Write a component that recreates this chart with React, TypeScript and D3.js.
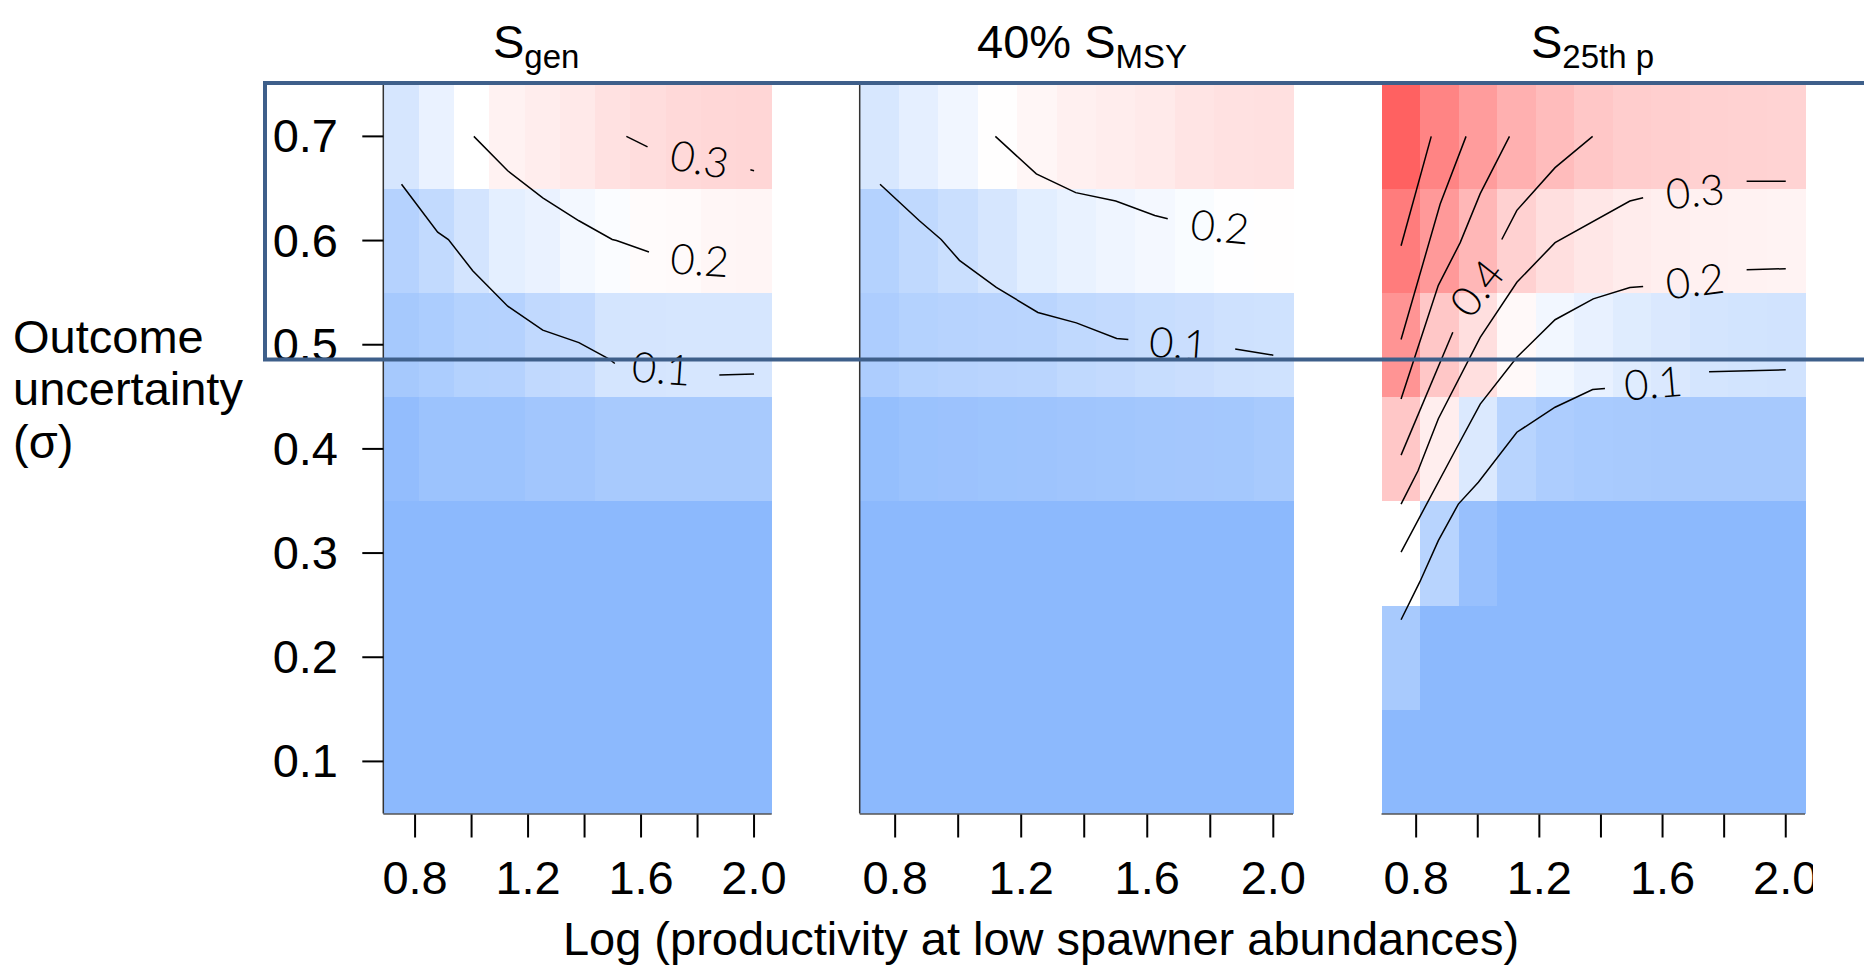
import React from "react";
import * as d3 from "d3";

// ---- grid (cell centres) ----
const SIGMA = [0.1, 0.2, 0.3, 0.4, 0.5, 0.6, 0.7];
const LOG_ALPHA = [0.75, 0.875, 1.0, 1.125, 1.25, 1.375, 1.5, 1.625, 1.75, 1.875, 2.0];
const X_TICKS = [0.8, 1.0, 1.2, 1.4, 1.6, 1.8, 2.0];
const X_TICK_LABELS = ["0.8", "1.2", "1.6", "2.0"];
const X_TICK_LABEL_VALUES = [0.8, 1.2, 1.6, 2.0];
const Y_TICKS = [0.1, 0.2, 0.3, 0.4, 0.5, 0.6, 0.7];
const Y_TICK_LABELS = ["0.1", "0.2", "0.3", "0.4", "0.5", "0.6", "0.7"];

// ---- cell values, rows sigma 0.1 -> 0.7 ----
const SGEN_VALUES = [
  [0, 0, 0, 0, 0, 0, 0, 0, 0, 0, 0],
  [0, 0, 0, 0, 0, 0, 0, 0, 0, 0, 0],
  [0, 0, 0, 0, 0, 0, 0, 0, 0, 0, 0],
  [0.012, 0.028, 0.028, 0.028, 0.038, 0.038, 0.049, 0.049, 0.049, 0.049, 0.049],
  [0.045, 0.056, 0.07, 0.072, 0.092, 0.095, 0.125, 0.127, 0.128, 0.128, 0.128],
  [0.071, 0.094, 0.123, 0.153, 0.163, 0.179, 0.191, 0.215, 0.22, 0.235, 0.237],
  [0.129, 0.163, 0.2, 0.248, 0.268, 0.283, 0.31, 0.325, 0.343, 0.35, 0.352],
];
const SMSY_VALUES = [
  [0, 0, 0, 0, 0, 0, 0, 0, 0, 0, 0],
  [0, 0, 0, 0, 0, 0, 0, 0, 0, 0, 0],
  [0, 0, 0, 0, 0, 0, 0, 0, 0, 0, 0],
  [0.016, 0.025, 0.027, 0.03, 0.032, 0.035, 0.037, 0.04, 0.041, 0.042, 0.048],
  [0.058, 0.07, 0.074, 0.078, 0.08, 0.09, 0.095, 0.102, 0.107, 0.115, 0.117],
  [0.07, 0.09, 0.108, 0.128, 0.15, 0.162, 0.172, 0.18, 0.19, 0.198, 0.202],
  [0.13, 0.155, 0.175, 0.205, 0.235, 0.255, 0.268, 0.28, 0.3, 0.312, 0.315],
];
const S25_VALUES = [
  [0, 0, 0, 0, 0, 0, 0, 0, 0, 0, 0],
  [0.048, 0, 0, 0, 0, 0, 0, 0, 0, 0, 0],
  [0.2, 0.077, 0.02, 0, 0, 0, 0, 0, 0, 0, 0],
  [0.41, 0.265, 0.137, 0.076, 0.058, 0.05, 0.048, 0.047, 0.047, 0.047, 0.047],
  [0.6, 0.41, 0.32, 0.222, 0.178, 0.16, 0.145, 0.135, 0.125, 0.122, 0.12],
  [0.69, 0.58, 0.47, 0.37, 0.32, 0.29, 0.272, 0.26, 0.252, 0.248, 0.245],
  [0.79, 0.66, 0.57, 0.494, 0.45, 0.41, 0.385, 0.378, 0.372, 0.367, 0.363],
];

// ---- contour polylines [logAlpha, sigma] (split where labels sit) ----
const SGEN_CONTOURS = [
  [[0.752, 0.654], [0.88, 0.608], [0.918, 0.601], [1.004, 0.571], [1.128, 0.537], [1.252, 0.514], [1.38, 0.502], [1.489, 0.486], [1.507, 0.482]],
  [[1.877, 0.471], [2.0, 0.472]],
  [[1.008, 0.7], [1.128, 0.667], [1.252, 0.641], [1.38, 0.619], [1.498, 0.601], [1.513, 0.6], [1.628, 0.589]],
  [[1.548, 0.7], [1.623, 0.69]],
  [[1.987, 0.668], [2.0, 0.667]],
];
const SMSY_CONTOURS = [
  [[0.752, 0.654], [0.877, 0.619], [0.946, 0.601], [1.004, 0.581], [1.121, 0.555], [1.253, 0.531], [1.375, 0.521], [1.503, 0.506], [1.54, 0.505]],
  [[1.879, 0.496], [2.0, 0.49]],
  [[1.118, 0.7], [1.248, 0.664], [1.373, 0.646], [1.5, 0.638], [1.624, 0.624], [1.665, 0.621]],
];
const S25_CONTOURS = [
  [[0.849, 0.7], [0.751, 0.595]],
  [[0.962, 0.7], [0.878, 0.635], [0.751, 0.505]],
  [[1.103, 0.7], [1.008, 0.645], [0.943, 0.598], [0.872, 0.557], [0.751, 0.448]],
  [[1.373, 0.7], [1.251, 0.67], [1.127, 0.629], [1.078, 0.601]],
  [[0.919, 0.512], [0.751, 0.394]],
  [[1.537, 0.641], [1.494, 0.638], [1.251, 0.598], [1.127, 0.56], [1.008, 0.507], [0.872, 0.429], [0.806, 0.379], [0.751, 0.347]],
  [[1.873, 0.657], [2.0, 0.657]],
  [[1.537, 0.556], [1.494, 0.555], [1.375, 0.544], [1.251, 0.524], [1.127, 0.488], [1.008, 0.443], [0.926, 0.398], [0.751, 0.301]],
  [[1.873, 0.572], [2.0, 0.573]],
  [[0.751, 0.236], [0.813, 0.273], [0.872, 0.312], [0.937, 0.347], [1.002, 0.368], [1.127, 0.416], [1.251, 0.44], [1.373, 0.457], [1.413, 0.458]],
  [[1.751, 0.474], [2.0, 0.476]],
];

// ---- contour labels ----
const SGEN_LABELS = [
  { text: "0.3", x: 1.808, s: 0.679, rot: 10 },
  { text: "0.2", x: 1.808, s: 0.582, rot: 4 },
  { text: "0.1", x: 1.672, s: 0.478, rot: 4 },
];
const SMSY_LABELS = [
  { text: "0.2", x: 1.831, s: 0.614, rot: 5 },
  { text: "0.1", x: 1.699, s: 0.502, rot: 4 },
];
const S25_LABELS = [
  { text: "0.3", x: 1.705, s: 0.648, rot: -6 },
  { text: "0.2", x: 1.705, s: 0.562, rot: -7 },
  { text: "0.1", x: 1.57, s: 0.464, rot: -5 },
  { text: "0.4", x: 0.995, s: 0.555, rot: -52 },
];

const PANELS = [
  { pre: "", sub: "gen", values: SGEN_VALUES, contours: SGEN_CONTOURS, labels: SGEN_LABELS, range: [383.3, 771.7], titleX: 493, leftLine: true, yAxis: true },
  { pre: "40% ", sub: "MSY", values: SMSY_VALUES, contours: SMSY_CONTOURS, labels: SMSY_LABELS, range: [859.7, 1293], titleX: 977, leftLine: true, yAxis: false },
  { pre: "", sub: "25th p", values: S25_VALUES, contours: S25_CONTOURS, labels: S25_LABELS, range: [1381.5, 1805], titleX: 1531, leftLine: false, yAxis: false },
];

const FONT = "'Liberation Sans', Arial, Helvetica, sans-serif";
const LABEL_FONT = "Lato, 'DejaVu Sans', sans-serif";

const color = d3
  .scaleLinear<string>()
  .domain([0, 0.2, 0.8])
  .range(["#8CB9FD", "#FFFFFF", "#FF5E5E"])
  .interpolate(d3.interpolateRgb)
  .clamp(true);

const y = d3.scaleLinear().domain([0.05, 0.75]).range([813.5, 84.3]);
const HALF_W = 0.0625;
const HALF_H = 0.05;

export default function App() {
  return (
    <svg
      width={1864}
      height={965}
      style={{ position: "absolute", left: 0, top: 0, display: "block", background: "#fff" }}
      fontFamily={FONT}
    >
      <defs>
        <clipPath id="pageclip">
          <rect x={0} y={0} width={1813} height={965} />
        </clipPath>
      </defs>
      <rect x={0} y={0} width={1864} height={965} fill="#fff" />
      <g clipPath="url(#pageclip)">
        {PANELS.map((p, pi) => {
          const x = d3.scaleLinear().domain([0.6875, 2.0625]).range(p.range as [number, number]);
          const line = d3
            .line<number[]>()
            .x((d) => x(d[0]))
            .y((d) => y(d[1]));
          return (
            <g key={pi}>
              {/* cells */}
              <g shapeRendering="crispEdges">
                {p.values.map((row, ri) =>
                  row.map((v, ci) => {
                    const a = LOG_ALPHA[ci];
                    const s = SIGMA[ri];
                    return (
                      <rect
                        key={ri + "-" + ci}
                        x={x(a - HALF_W)}
                        y={y(s + HALF_H)}
                        width={x(a + HALF_W) - x(a - HALF_W) + 0.5}
                        height={y(s - HALF_H) - y(s + HALF_H) + 0.5}
                        fill={color(v)}
                      />
                    );
                  })
                )}
              </g>
              {/* contours */}
              {p.contours.map((c, k) => (
                <path key={k} d={line(c) || ""} fill="none" stroke="#000" strokeWidth={1.5} />
              ))}
              {p.labels.map((l, k) => (
                <text
                  key={k}
                  transform={`translate(${x(l.x)},${y(l.s)}) rotate(${l.rot})`}
                  textAnchor="middle"
                  dominantBaseline="central"
                  fontFamily={LABEL_FONT}
                  fontWeight={300}
                  fontSize={42}
                  fill="#000"
                >
                  {l.text}
                </text>
              ))}
              {/* axis frame */}
              {p.leftLine && (
                <line x1={p.range[0]} x2={p.range[0]} y1={y(0.75)} y2={y(0.05)} stroke="#333" strokeWidth={1.5} />
              )}
              <line x1={p.range[0]} x2={p.range[1]} y1={y(0.05) + 0.5} y2={y(0.05) + 0.5} stroke="#555" strokeWidth={1.5} />
              {X_TICKS.map((t) => (
                <line key={t} x1={x(t)} x2={x(t)} y1={y(0.05) + 1} y2={y(0.05) + 24} stroke="#000" strokeWidth={2} />
              ))}
              {X_TICK_LABELS.map((lab, k) => (
                <text key={lab} x={x(X_TICK_LABEL_VALUES[k])} y={894} textAnchor="middle" fontSize={47} fill="#000">
                  {lab}
                </text>
              ))}
              {p.yAxis &&
                Y_TICKS.map((t, k) => (
                  <g key={t}>
                    <line x1={p.range[0] - 21} x2={p.range[0]} y1={y(t)} y2={y(t)} stroke="#000" strokeWidth={2} />
                    <text x={338} y={y(t) + 16} textAnchor="end" fontSize={47} fill="#000">
                      {Y_TICK_LABELS[k]}
                    </text>
                  </g>
                ))}
              {/* title */}
              <text x={p.titleX} y={58} fontSize={47} fill="#000">
                {p.pre}S
                <tspan fontSize={33} dy={10}>
                  {p.sub}
                </tspan>
              </text>
            </g>
          );
        })}
        {/* axis titles */}
        <text x={1041} y={955} textAnchor="middle" fontSize={47} fill="#000">
          Log (productivity at low spawner abundances)
        </text>
        <text fontSize={47} fill="#000">
          <tspan x={13} y={353}>Outcome</tspan>
          <tspan x={13} y={405}>uncertainty</tspan>
          <tspan x={13} y={458}>(σ)</tspan>
        </text>
      </g>
      {/* highlight box overlay */}
      <rect x={265} y={83} width={1700} height={276.5} fill="none" stroke="#3E5F8A" strokeWidth={4} />
    </svg>
  );
}
